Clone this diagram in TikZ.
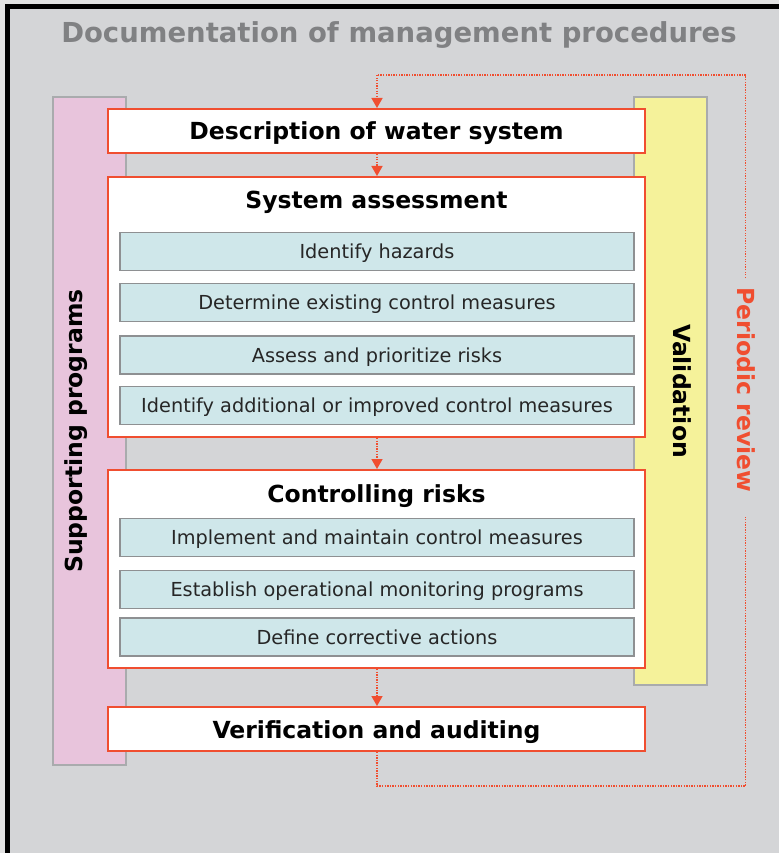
\documentclass[tikz,border=0pt]{standalone}
\usepackage{fontspec}
\setmainfont{DejaVu Sans}
\usetikzlibrary{arrows.meta}
\definecolor{bggray}{HTML}{D4D5D7}
\definecolor{outgray}{HTML}{E2E2E2}
\definecolor{pinkbar}{HTML}{E8C4DC}
\definecolor{yellowbar}{HTML}{F5F29A}
\definecolor{redline}{HTML}{F04E30}
\definecolor{cyanfill}{HTML}{CFE7EA}
\definecolor{innerborder}{HTML}{8E9092}
\definecolor{barborder}{HTML}{A9ABAD}
\definecolor{titlegray}{HTML}{808183}
\tikzset{
  bar/.style={draw=barborder, line width=2pt, minimum width=73pt, inner sep=0pt},
  redbox/.style={draw=redline, fill=white, line width=2pt, minimum width=537pt, inner sep=0pt},
  innerbox/.style={draw=innerborder, fill=cyanfill, line width=1.8pt, minimum width=514pt, minimum height=38pt, inner sep=0pt,
    text height=14pt, text depth=0pt,
    font=\fontsize{19.3}{23}\selectfont, text=black!85},
  boldtext/.style={font=\fontsize{23.5}{28}\selectfont\bfseries, inner sep=0pt, text height=17pt, text depth=0pt},
  dotline/.style={draw=redline, line width=1.4pt, dash pattern=on 1.3pt off 1.3pt},
  dotarrow/.style={dotline, -{Triangle[width=11pt,length=10pt,fill=redline]}},
}
\begin{document}
\begin{tikzpicture}[x=1pt,y=-1pt]
\useasboundingbox (0,0) rectangle (779,853);
\fill[outgray] (0,0) rectangle (779,853);
\fill[bggray] (7,7) rectangle (779,853);
\draw[black, line width=5pt] (7.5,853) -- (7.5,7) -- (779,7);

% title
\node[inner sep=0pt, text=titlegray, text height=20pt, text depth=0pt, font=\fontsize{27.5}{32}\selectfont\bfseries] (title) at (399,33) {Documentation of management procedures};

% side bars
\node[bar, fill=pinkbar, minimum height=668pt] (supp) at (89.5,431) {};
\node[bar, fill=yellowbar, minimum height=588pt] (valid) at (670.5,391) {};
\node[boldtext, rotate=90] (supptxt) at (74,431) {Supporting programs};
\node[boldtext, rotate=-90] (validtxt) at (682,391) {Validation};

% main boxes
\node[redbox, minimum height=44pt] (desc) at (376.5,131) {};
\node[boldtext] (desctxt) at (376.5,131.5) {Description of water system};

\node[redbox, minimum height=260pt] (sysa) at (376.5,307) {};
\node[boldtext] (sysatxt) at (376.5,200) {System assessment};
\node[innerbox] (s1) at (377,251.5) {Identify hazards};
\node[innerbox] (s2) at (377,302.5) {Determine existing control measures};
\node[innerbox] (s3) at (377,355) {Assess and prioritize risks};
\node[innerbox] (s4) at (377,405.5) {Identify additional or improved control measures};

\node[redbox, minimum height=198pt] (ctrl) at (376.5,569) {};
\node[boldtext] (ctrltxt) at (376.5,494) {Controlling risks};
\node[innerbox] (c1) at (377,537.5) {Implement and maintain control measures};
\node[innerbox] (c2) at (377,589.5) {Establish operational monitoring programs};
\node[innerbox] (c3) at (377,637) {Define corrective actions};

\node[redbox, minimum height=44pt] (ver) at (376.5,729) {};
\node[boldtext] (vertxt) at (376.5,729.5) {Verification and auditing};

% arrows between boxes
\draw[dotarrow] (desc.south -| 377,0) -- (sysa.north -| 377,0);
\draw[dotarrow] (sysa.south -| 377,0) -- (ctrl.north -| 377,0);
\draw[dotarrow] (ctrl.south -| 377,0) -- (ver.north -| 377,0);

% periodic review loop
\node[boldtext, rotate=-90, text=redline] (prv) at (745.5,390) {Periodic review};
\coordinate (lb) at (377,786);
\coordinate (rb) at (745.5,786);
\coordinate (rlow) at (745.5,517);
\coordinate (rhigh) at (745.5,278);
\coordinate (rt) at (745.5,75);
\coordinate (lt) at (377,75);
\draw[dotline] (ver.south -| 377,0) -- (lb) -- (rb) -- (rlow);
\draw[dotline] (rhigh) -- (rt) -- (lt);
\draw[dotarrow] (lt) -- (desc.north -| 377,0);
\end{tikzpicture}
\end{document}
